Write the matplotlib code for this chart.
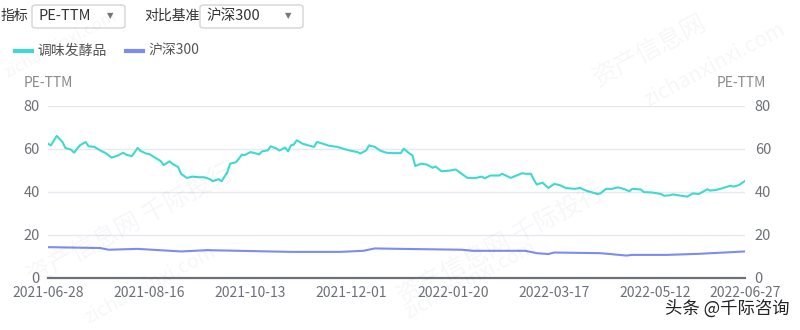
import matplotlib
matplotlib.use("Agg")
import matplotlib.pyplot as plt
from matplotlib.patches import FancyBboxPatch
from matplotlib.lines import Line2D

plt.rcParams["font.family"] = ["Noto Sans CJK SC", "DejaVu Sans"]

# ---------------------------------------------------------
# DATA (trading-day index from 2021-06-28, PE-TTM)
# ---------------------------------------------------------
tick_days = [0, 35, 70, 105, 140, 175, 210, 241]
tick_labels = ["2021-06-28", "2021-08-16", "2021-10-13", "2021-12-01",
               "2022-01-20", "2022-03-17", "2022-05-12", "2022-06-27"]

cons_days = [0, 1, 3, 5, 6, 8, 9, 11, 13, 14, 16, 18, 20, 22, 24, 26, 27, 29,
             31, 32, 34, 35, 37, 39, 40, 42, 43, 45, 46, 48, 50, 52, 54, 56,
             57, 59, 60, 62, 63, 65, 66, 67, 68, 70, 71, 73, 74, 76, 77, 79,
             80, 82, 83, 84, 85, 86, 88, 90, 92, 93, 95, 97, 100, 104, 107,
             108, 110, 111, 113, 115, 117, 119, 122, 123, 125, 126, 127, 129,
             131, 133, 134, 136, 139, 141, 143, 145, 148, 150, 151, 153, 156,
             157, 159, 160, 162, 164, 165, 167, 168, 169, 171, 173, 175, 177,
             179, 182, 184, 186, 190, 191, 193, 195, 197, 199, 201, 202, 205,
             206, 209, 212, 213, 215, 216, 219, 221, 223, 225, 228, 229, 231,
             233, 236, 237, 239, 241]
cons_pe = [62.3, 61.5, 65.9, 63.1, 60.3, 59.5, 58.1, 61.5, 63.1, 61.1, 60.8,
           59.2, 57.9, 55.8, 56.7, 58.1, 57.2, 56.5, 60.3, 58.9, 57.7, 57.5,
           55.8, 54.2, 52.3, 54.1, 53.0, 51.4, 48.3, 46.4, 47.0, 46.7, 46.7,
           45.8, 44.9, 45.8, 44.8, 49.0, 53.0, 53.7, 55.3, 57.2, 57.0, 58.4,
           58.1, 57.3, 58.7, 59.2, 61.1, 60.0, 59.1, 60.5, 58.7, 61.5, 61.9,
           63.9, 62.3, 61.5, 60.8, 63.1, 62.3, 61.4, 60.8, 59.2, 58.4, 57.7,
           59.2, 61.5, 60.8, 59.0, 58.1, 57.9, 57.9, 60.0, 57.7, 56.9, 51.9,
           53.0, 52.6, 51.1, 51.7, 49.5, 49.8, 50.3, 48.3, 46.4, 46.4, 47.0,
           46.2, 47.5, 47.5, 48.3, 47.0, 46.4, 47.5, 48.6, 48.3, 48.3, 45.5,
           43.3, 44.2, 41.7, 43.6, 43.0, 41.7, 41.3, 41.7, 40.5, 38.9, 39.2,
           41.3, 41.3, 42.0, 41.3, 40.2, 41.3, 41.0, 39.8, 39.6, 38.9, 38.1,
           38.3, 38.7, 38.1, 37.7, 39.2, 38.9, 41.1, 40.5, 40.8, 41.5, 42.8,
           42.3, 43.1, 45.0]

hs_days = [0, 18, 21, 31, 46, 55, 66, 84, 101, 109, 113, 122, 143, 147, 165,
           169, 173, 175, 191, 200, 202, 214, 225, 241]
hs_pe = [14.2, 13.8, 13.0, 13.4, 12.2, 12.8, 12.5, 12.0, 12.0, 12.5, 13.6,
         13.4, 13.0, 12.5, 12.5, 11.4, 11.0, 11.7, 11.4, 10.3, 10.6, 10.6,
         11.1, 12.2]

cons_name = "调味发酵品"
hs_name = "沪深300"

CONS_COLOR = "#3fd9d0"
HS_COLOR = "#7c8cf0"
AXIS_GRAY = "#6e7079"
TEXT_GRAY = "#8a8a8a"

W, H = 800, 330
fig = plt.figure(figsize=(W / 100, H / 100), dpi=100)


def fx(px):
    return px / W


def fy(py):
    return 1 - py / H


# ---------------------------------------------------------
# MAIN AXES
# ---------------------------------------------------------
ax = fig.add_axes([fx(48), fy(277.7), fx(745) - fx(48), fy(105.6) - fy(277.7)])
ax.plot(cons_days, cons_pe, color=CONS_COLOR, lw=1.5, zorder=3, solid_joinstyle="round")
ax.plot(hs_days, hs_pe, color=HS_COLOR, lw=1.5, zorder=3)

ax.set_xlim(0, 241)
ax.set_ylim(0, 80)
ax.set_yticks([0, 20, 40, 60, 80])
ax.set_xticks(tick_days)
ax.set_xticklabels(tick_labels)
ax.grid(axis="y", color="#e6e9f0", lw=1)
ax.set_axisbelow(True)
for s in ["top", "right", "left"]:
    ax.spines[s].set_visible(False)
ax.spines["bottom"].set_color(AXIS_GRAY)
ax.spines["bottom"].set_linewidth(1.6)
ax.tick_params(axis="x", length=0, pad=6, labelsize=10, labelcolor=AXIS_GRAY)
ax.tick_params(axis="y", length=0, pad=6, labelsize=10.5, labelcolor=AXIS_GRAY)

ax2 = ax.twinx()
ax2.set_ylim(0, 80)
ax2.set_yticks([0, 20, 40, 60, 80])
for s in ["top", "right", "left", "bottom"]:
    ax2.spines[s].set_visible(False)
ax2.tick_params(axis="y", length=0, pad=7, labelsize=10.5, labelcolor=AXIS_GRAY)

fig.text(fx(24), fy(83), "PE-TTM", fontsize=10, color=TEXT_GRAY, va="center")
fig.text(fx(766), fy(83), "PE-TTM", fontsize=10, color=TEXT_GRAY, va="center", ha="right")

# ---------------------------------------------------------
# CONTROLS / LEGEND
# ---------------------------------------------------------
fig.text(fx(1), fy(16), "指标", fontsize=10, color="#333333", va="center")
fig.text(fx(144), fy(16), "对比基准", fontsize=10, color="#333333", va="center")
for x0, x1, label in [(32, 125, "PE-TTM"), (200, 303, hs_name)]:
    box = FancyBboxPatch((fx(x0), fy(28)), fx(x1) - fx(x0), fy(5) - fy(28),
                         boxstyle="round,pad=0,rounding_size=0.006",
                         transform=fig.transFigure, fc="white", ec="#d4d4d4", lw=1)
    fig.patches.append(box)
    fig.text(fx(x0 + 6), fy(16), label, fontsize=10.5, color="#333333", va="center")
    fig.text(fx(x1 - 15), fy(16), "▼", fontsize=6, color="#777777",
             va="center", ha="center", family="DejaVu Sans")

for x0, color, name in [(15, CONS_COLOR, cons_name), (126, HS_COLOR, hs_name)]:
    fig.lines.append(Line2D([fx(x0), fx(x0 + 17)], [fy(51), fy(51)], color=color,
                            lw=3, transform=fig.transFigure))
    fig.text(fx(x0 + 22), fy(51), name, fontsize=10, color="#555555", va="center")

# ---------------------------------------------------------
# WATERMARKS
# ---------------------------------------------------------
wm = dict(color="#000000", alpha=0.035, rotation=28, ha="center", va="center")
fig.text(fx(650), fy(50), "资产信息网", fontsize=18, **wm)
fig.text(fx(715), fy(65), "zichanxinxi.com", fontsize=15, **wm)
fig.text(fx(500), fy(245), "资产信息网 千际投行", fontsize=18, **wm)
fig.text(fx(130), fy(225), "资产信息网 千际投行", fontsize=18, **wm)
fig.text(fx(470), fy(280), "zichanxinxi.com", fontsize=14, **wm)
fig.text(fx(150), fy(285), "zichanxinxi.com", fontsize=14, **wm)
fig.text(fx(60), fy(45), "zichanxinxi.com", fontsize=12, **wm)

fig.text(fx(790), fy(309), "头条 @千际咨询", fontsize=12.5, color="#222222",
         va="center", ha="right")

fig.savefig("out.png", dpi=100)
